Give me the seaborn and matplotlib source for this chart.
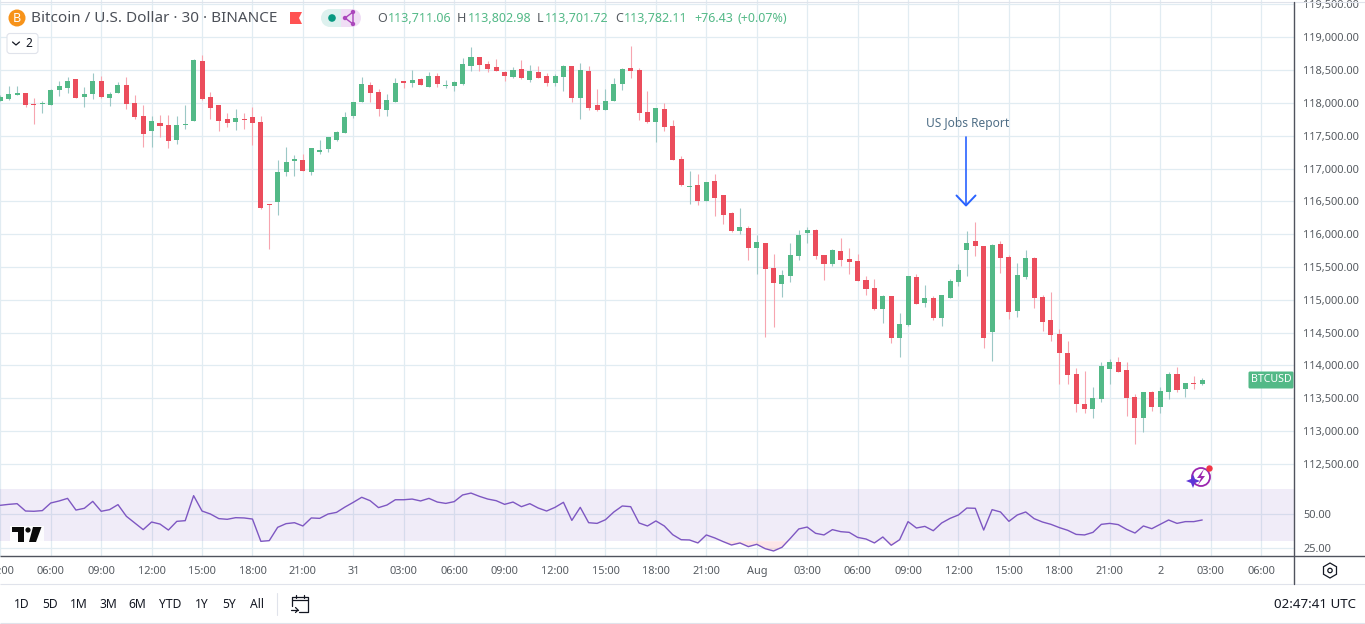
import pandas as pd
import matplotlib.pyplot as plt
from matplotlib.patches import Circle, Polygon, Rectangle, FancyBboxPatch, RegularPolygon, Wedge
import seaborn as sns

opens = [118029,118060,118121,118151,117983,117983,117968,118197,118228,118365,118090,118136,118334,118075,118151,118273,117999,117800,117572,117694,117663,117434,117663,117724,118639,118090,117968,117755,117709,117755,117785,117709,116458,116488,116946,117114,117129,116946,117251,117297,117434,117541,117800,118014,118273,118167,117892,118014,118334,118304,118365,118243,118411,118258,
         118258,118288,118563,118700,118593,118548,118471,118395,118517,118349,118471,118410,118303,118395,118563,118075,118487,117968,117892,118029,118288,118532,118502,117861,117709,117907,117648,117144,116717,116747,116503,116809,116595,116320,116046,116091,115786,115863,115481,115237,115359,115664,116015,116061,115680,115542,115741,115619,115588,115298,115176,114856,
         115060,114419,114617,115349,114953,115029,114724,115029,115273,115761,115899,115822,114510,115853,115654,114831,115349,115639,115044,114693,114480,114190,113870,113412,113336,113488,113946,114053,113931,113519,113198,113595,113366,113595,113870,113641,113732,113711]
highs = [118121,118258,118258,118151,118075,118029,118212,118334,118395,118365,118243,118456,118411,118167,118319,118395,118121,117968,117800,117816,117816,117800,117968,118665,118731,118167,117968,117846,117907,117846,117938,117800,116458,117129,117327,117205,117221,117312,117434,117480,117572,117861,118014,118395,118319,118212,118136,118380,118334,118502,118380,118472,118456,118350,
         118334,118685,118853,118700,118639,118670,118487,118548,118654,118578,118563,118456,118441,118578,118563,118609,118563,118212,118212,118380,118532,118868,118532,118181,117922,117998,117739,117190,116961,116915,116793,116915,116595,116336,116397,116122,115985,115863,115695,115451,115863,116061,116107,116076,115680,115771,115939,115786,115695,115359,115314,115069,
         115060,114800,115365,115395,115227,115060,115075,115319,115548,116051,116188,115822,115853,115899,115685,115563,115761,115654,115075,115121,114556,114373,113961,113915,113671,114053,114098,114129,114053,113565,113595,113610,113671,113900,113976,113732,113839,113803]
lows = [118029,118045,118121,117938,117678,117846,117968,118106,118151,118075,117938,118060,118080,117953,118151,117907,117755,117327,117327,117480,117312,117373,117602,117724,118045,117755,117572,117633,117587,117602,117358,116382,115772,116290,116885,116885,116961,116900,117221,117251,117419,117541,117770,118014,118014,117800,117800,118014,118228,118243,118273,118243,118243,118228,
        118181,118273,118487,118487,118471,118487,118334,118380,118364,118319,118380,118258,118258,118181,118014,117754,117892,117876,117892,118029,118197,118380,117739,117693,117403,117571,117129,116732,116458,116442,116503,116275,116153,116030,116000,115603,115390,114429,114581,115039,115268,115603,115863,115619,115298,115512,115512,115390,115283,115069,114841,114642,
        114343,114129,114602,114937,114892,114693,114602,115029,115212,115365,115670,114266,114068,115410,114709,114739,115319,114876,114526,114373,113717,113717,113290,113275,113198,113443,113717,113900,113229,112802,112985,113305,113275,113488,113595,113519,113641,113702]
closes = [118090,118136,118151,117968,117968,117999,118197,118258,118334,118075,118136,118334,118090,118136,118273,117983,117785,117526,117724,117648,117419,117663,117678,118655,118060,117922,117724,117694,117770,117739,117694,116397,116443,116946,117099,117144,116961,117312,117282,117480,117556,117785,118014,118289,118151,117907,118045,118304,118304,118350,118273,118411,118289,118268,
          118319,118593,118700,118578,118517,118487,118410,118502,118380,118487,118380,118303,118410,118563,118075,118502,117922,117892,118029,118288,118517,118487,117846,117709,117922,117632,117129,116747,116732,116503,116793,116549,116290,116046,116107,115786,115878,115466,115252,115374,115680,115985,116061,115664,115542,115756,115603,115573,115283,115161,114856,115054,
          114419,114632,115365,114937,115029,114724,115075,115288,115456,115868,115822,114419,115838,115639,114815,115380,115639,115029,114663,114465,114190,113854,113412,113336,113503,113992,114053,113900,113503,113198,113595,113366,113610,113870,113625,113732,113717,113782]
rsi_values = [56.4,57.1,57.6,52.2,52.0,52.5,58.1,59.6,61.5,52.9,54.2,59.3,52.0,53.2,56.9,48.3,43.4,38.5,44.1,42.6,38.2,44.6,45.1,63.5,52.2,50.0,46.6,46.1,47.3,47.1,46.3,29.9,30.4,40.2,42.9,43.6,41.2,47.1,46.8,50.0,51.2,55.1,58.6,62.3,59.8,54.7,56.6,60.5,60.5,61.0,59.6,61.5,58.8,57.8,59.1,64.0,65.4,63.0,61.0,59.8,57.1,58.8,55.4,57.6,54.4,52.2,54.9,58.6,45.3,54.9,43.6,43.1,45.8,51.5,55.9,55.4,43.4,41.2,
              44.9,41.2,34.8,31.1,30.9,28.7,34.6,32.4,29.7,27.2,28.7,26.0,27.7,24.5,22.8,25.5,32.1,39.0,40.4,35.8,34.6,38.5,37.0,36.5,32.8,31.6,28.7,33.1,27.0,31.1,44.4,39.7,40.9,37.7,43.4,46.8,49.3,54.4,54.2,38.2,53.2,51.5,44.6,49.3,51.5,46.6,44.1,42.4,40.0,38.0,35.0,34.6,36.5,42.4,43.1,42.2,38.7,36.0,41.2,39.2,42.4,45.6,43.1,44.4,44.4,45.6]
price_ticks = [119500,119000,118500,118000,117500,117000,116500,116000,115500,115000,114500,114000,113500,113000,112500]
rsi_ticks = [50,25]
time_labels = ["03:00","06:00","09:00","12:00","15:00","18:00","21:00","31","03:00","06:00","09:00","12:00","15:00","18:00","21:00","Aug",
               "03:00","06:00","09:00","12:00","15:00","18:00","21:00","2","03:00","06:00"]
range_labels = ["1D","5D","1M","3M","6M","YTD","1Y","5Y","All"]
range_x = [22,50,79,108,137,170,202,229,257]

GREEN = "#53B987"
RED = "#EB4D5C"
GREEN_WICK = "#9CC8C6"
RED_WICK = "#F7A5B0"
GRID = "#E1ECF2"
TXT = "#555a60"

W, H = 1365, 624
PX_PER_BAR = 8.405

sns.set_theme(style="white")
plt.rcParams['font.family'] = ['Noto Sans', 'DejaVu Sans']

df = pd.DataFrame({"open": opens, "high": highs, "low": lows, "close": closes, "rsi": rsi_values})
df["bar"] = range(len(df))
df["up"] = df["close"] >= df["open"]

fig = plt.figure(figsize=(W / 100, H / 100), dpi=100, facecolor="white")

def pane(left, top, right, bottom):
    return fig.add_axes([left / W, 1 - bottom / H, (right - left) / W, (bottom - top) / H])

ax = pane(0, 0, 1294, 489)
rsi_ax = pane(0, 489, 1294, 556)
xlim = (-0.036, 153.92)
tick_bars = list(range(0, 6 * len(time_labels), 6))

# candles
for up, group in df.groupby("up"):
    ax.vlines(group["bar"], group["low"], group["high"], color=GREEN_WICK if up else RED_WICK, lw=0.8, zorder=2)
    bottoms = group[["open", "close"]].min(axis=1)
    heights = (group["close"] - group["open"]).abs()
    ax.bar(group["bar"], heights, bottom=bottoms, width=0.6, color=GREEN if up else RED, lw=0, zorder=3)

ax.set_xlim(xlim)
ax.set_ylim(112116, 119568)
ax.set_yticks(price_ticks, [f"{v:,.2f}" for v in price_ticks])
ax.set_xticks(tick_bars, [])

# rsi pane
rsi_ax.axhspan(30, 70, color="#7E57C2", alpha=0.11, lw=0, zorder=1)
rsi_ax.fill_between(df["bar"], df["rsi"], 30, where=df["rsi"] < 30, interpolate=True, color="#F23645", alpha=0.12, lw=0, zorder=1)
sns.lineplot(data=df, x="bar", y="rsi", ax=rsi_ax, color="#7E57C2", lw=1.0, zorder=3)
rsi_ax.set_xlim(xlim)
rsi_ax.set_ylim(19.1, 68.4)
rsi_ax.set_yticks(rsi_ticks, [f"{v:.2f}" for v in rsi_ticks])
rsi_ax.set_xticks(tick_bars, time_labels)
rsi_ax.set_xlabel("")
rsi_ax.set_ylabel("")

for a in (ax, rsi_ax):
    a.yaxis.tick_right()
    a.grid(True, color=GRID, lw=0.9, zorder=0)
    a.set_axisbelow(True)
    a.tick_params(axis="y", length=0, pad=6.5, labelsize=7.9, labelcolor=TXT)
    a.tick_params(axis="x", length=0, pad=7, labelsize=7.9, labelcolor=TXT)
    a.patch.set_alpha(0)
    for s in a.spines.values():
        s.set_visible(False)
ax.tick_params(axis="x", length=0, labelbottom=False)

# everything else is drawn on a pixel overlay
ov = fig.add_axes([0, 0, 1, 1], zorder=10)
ov.set_xlim(0, W)
ov.set_ylim(H, 0)
ov.axis("off")

def hline(y, x0=0, x1=W, c="#E0E3EB", lw=0.8):
    ov.plot([x0, x1], [y, y], color=c, lw=lw, solid_capstyle="butt")

hline(1.5)
hline(584)
hline(623)
hline(556, c="#50535E", lw=1.0)
ov.plot([1294, 1294], [2, 584], color="#50535E", lw=1.0)

# header
ov.add_patch(Circle((17, 18), 8.5, color="#F7931A", lw=0))
ov.text(17, 18, "B", color="white", fontsize=9, fontweight="bold", ha="center", va="center")
ov.text(31, 18, "Bitcoin / U.S. Dollar · 30 · BINANCE", color="#4c5058", fontsize=11, va="center")
ov.add_patch(Polygon([(290, 12), (302, 12), (299, 18), (302, 24), (290, 24)], color="#FF5252", lw=0))

ov.add_patch(FancyBboxPatch((330, 9), 22, 18, boxstyle="round,pad=0,rounding_size=0", color="#DDF1EE", lw=0))
ov.add_patch(Wedge((330, 18), 9, 90, 270, color="#DDF1EE", lw=0))
ov.add_patch(Rectangle((341, 9), 11, 18, color="#F0DEF5", lw=0))
ov.add_patch(Wedge((352, 18), 9, 270, 90, color="#F0DEF5", lw=0))
ov.add_patch(Circle((332, 18), 3.8, color="#089981", lw=0))
ov.add_patch(Polygon([(353, 12), (345, 18), (353, 24)], fill=False, ec="#AB47BC", lw=1.0))
for cx, cy in [(353, 12), (345, 18), (353, 24)]:
    ov.add_patch(Circle((cx, cy), 2.2, color="#AB47BC", lw=0))

ohlc = [(377, "O", "#555a60"), (387.5, "113,711.06", GREEN), (457, "H", "#555a60"), (467.5, "113,802.98", GREEN),
        (537, "L", "#555a60"), (545, "113,701.72", GREEN), (615, "C", "#555a60"), (624, "113,782.11", GREEN),
        (694, "+76.43", GREEN), (737, "(+0.07%)", GREEN)]
for x, s, c in ohlc:
    ov.text(x, 18, s, color=c, fontsize=9, va="center")

ov.add_patch(FancyBboxPatch((7, 33.5), 31, 20, boxstyle="round,pad=0,rounding_size=3", fc="white", ec="#E0E3EB", lw=0.8))
ov.plot([12.5, 16, 19.5], [42, 45, 42], color="#131722", lw=0.9)
ov.text(29, 43.5, "2", color="#131722", fontsize=8.5, ha="center", va="center")

# annotation
ov.text(968, 123, "US Jobs Report", color="#4F6E86", fontsize=8.6, fontweight="semibold", ha="center", va="center")
ov.plot([966, 966], [137, 205], color="#2962FF", lw=1.2)
ov.plot([956.5, 966, 975.5], [195.5, 205.5, 195.5], color="#2962FF", lw=1.4)

# last price tag
ov.add_patch(FancyBboxPatch((1248.5, 371.5), 45, 17, boxstyle="round,pad=0,rounding_size=1.5", color=GREEN, lw=0))
ov.text(1271, 380, "BTCUSD", color="white", fontsize=7.6, ha="center", va="center")

# lightning badge
ov.add_patch(Circle((1201, 477), 9, fill=False, ec="#9C27B0", lw=1.3))
ov.add_patch(Polygon([(1204, 469), (1197, 478), (1201, 478), (1198, 485), (1205, 476), (1201, 476)], color="#9C27B0", lw=0))
ov.add_patch(Circle((1209.5, 468.5), 3.2, color="#F23645", lw=0))
ov.add_patch(Polygon([(1193, 474), (1195, 479), (1200, 481), (1195, 483), (1193, 488), (1191, 483), (1186, 481), (1191, 479)], color="#5E35D6", lw=0))

# logo
ov.add_patch(Rectangle((10, 525.5), 33.5, 15.5, color="white", lw=0, alpha=0.85))
ov.add_patch(Polygon([(12, 527), (24, 527), (24, 542), (17.5, 542), (17.5, 532), (12, 532)], color="#0B0B0B", lw=0))
ov.add_patch(Circle((28, 530), 2.6, color="#0B0B0B", lw=0))
ov.add_patch(Polygon([(33, 527), (41.5, 527), (36, 542), (29, 542)], color="#0B0B0B", lw=0))

# bottom bar
for x, s in zip(range_x, range_labels):
    ov.text(x, 604, s, color="#131722", fontsize=8.7, ha="center", va="center")
ov.plot([276.5, 276.5], [593, 615], color="#E0E3EB", lw=0.8)
ov.plot([292, 292, 308, 308, 299], [606, 597, 597, 612, 612], color="#131722", lw=0.9)
ov.plot([292, 308], [600, 600], color="#131722", lw=0.9)
ov.plot([296, 296], [595, 598], color="#131722", lw=0.9)
ov.plot([304, 304], [595, 598], color="#131722", lw=0.9)
ov.plot([291, 298], [610, 610], color="#131722", lw=0.9)
ov.plot([295.5, 298, 295.5], [607.5, 610, 612.5], color="#131722", lw=0.9)
ov.text(1356, 604, "02:47:41 UTC", color="#131722", fontsize=9.6, ha="right", va="center")

ov.add_patch(RegularPolygon((1330, 570.5), 6, radius=7.5, fill=False, ec="#131722", lw=0.9))
ov.add_patch(Circle((1330, 570.5), 2.2, fill=False, ec="#131722", lw=0.9))

fig.savefig("out.png", dpi=100, facecolor="white")
